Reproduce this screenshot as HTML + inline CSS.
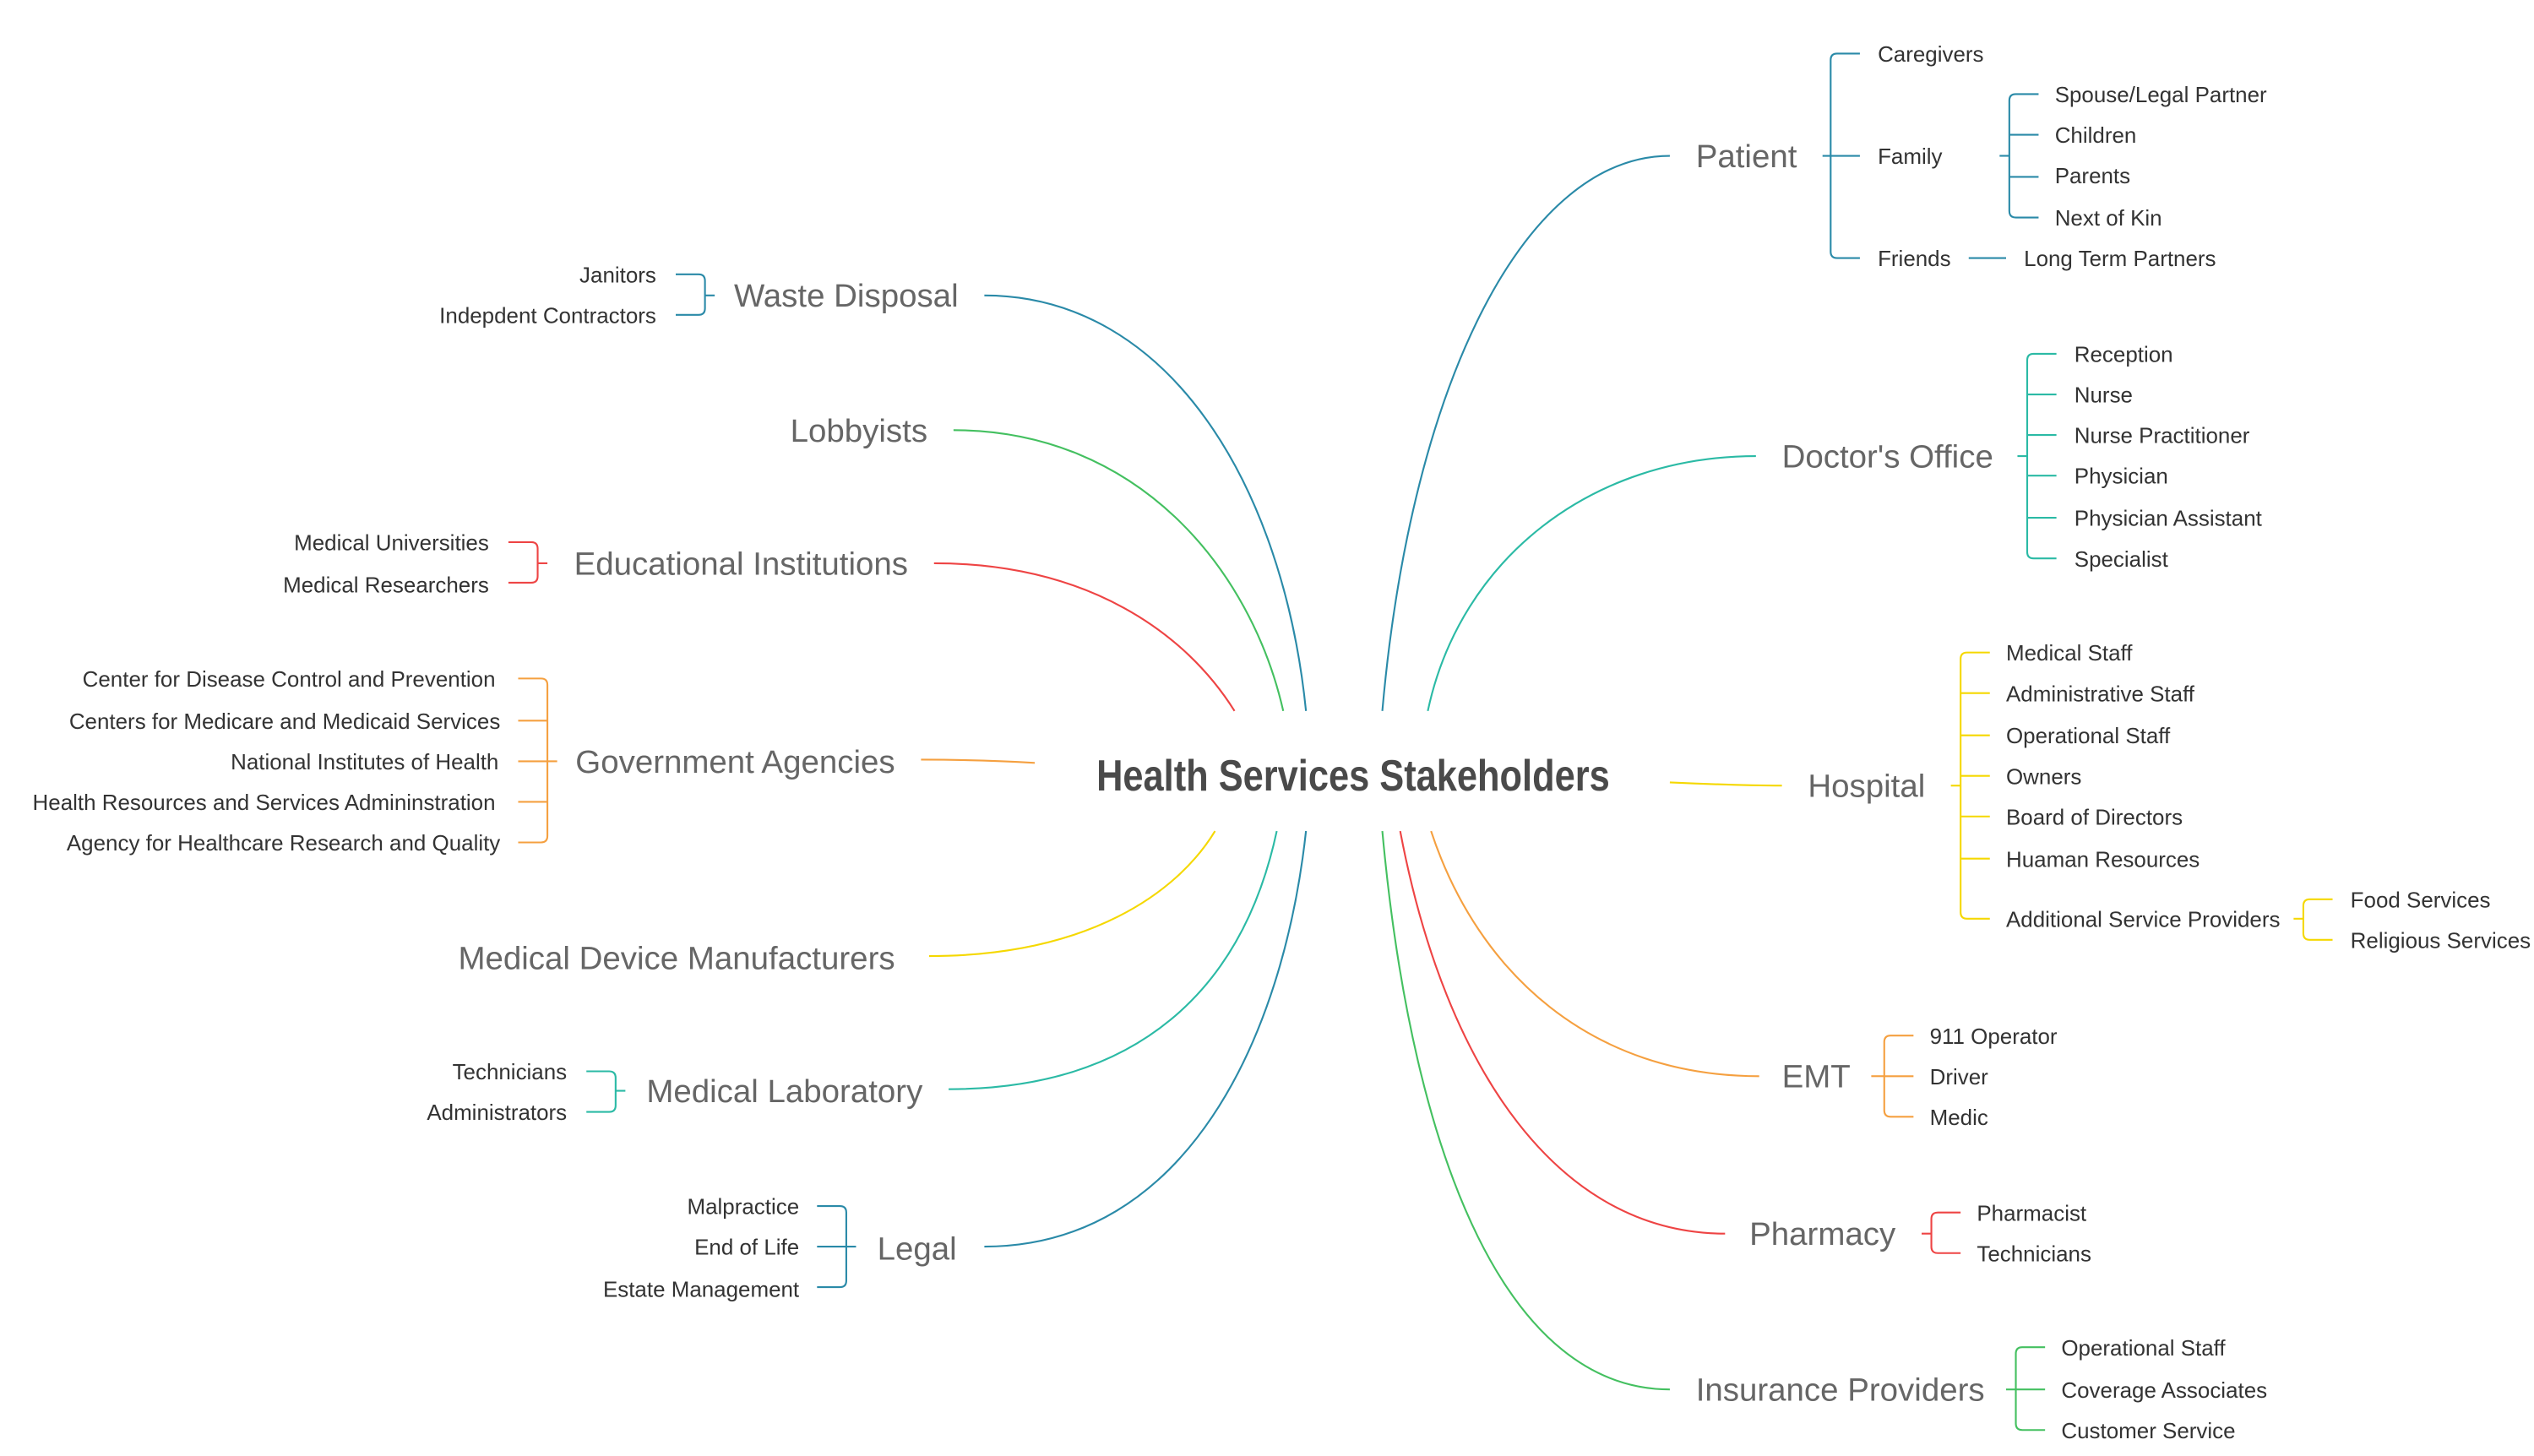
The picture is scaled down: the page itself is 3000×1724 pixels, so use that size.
<!DOCTYPE html>
<html><head><meta charset="utf-8"><style>
html,body{margin:0;padding:0;background:#fff;}
svg{display:block;}
.l{font-family:"Liberation Sans",sans-serif;font-size:13.5px;fill:#333;}
.b{font-family:"Liberation Sans",sans-serif;font-size:20px;fill:#666;}
.e{text-anchor:end;}
path{fill:none;stroke-width:1.1;}
</style></head><body>
<svg width="3000" height="1724" viewBox="0 0 1560 897" preserveAspectRatio="none" xmlns="http://www.w3.org/2000/svg">
<text x="675" y="487" textLength="316" lengthAdjust="spacingAndGlyphs" style="font-family:'Liberation Sans Narrow','Liberation Sans',sans-serif;font-weight:bold;font-size:27px;fill:#4a4a4a">Health Services Stakeholders</text>

<!-- Patient -->
<g stroke="#2a8aa8">
<path d="M851,438 C869,233 940,96 1028,96"/>
<path d="M1122,96 H1145"/>
<path d="M1145,33 H1131 Q1127,33 1127,37 V155 Q1127,159 1131,159 H1145"/>
<path d="M1231,96 H1237"/>
<path d="M1255,58 H1241 Q1237,58 1237,62 V130 Q1237,134 1241,134 H1255 M1237,83 H1255 M1237,109 H1255"/>
<path d="M1212,159 H1235"/>
</g>
<text class="b" x="1044" y="103">Patient</text>
<text class="l" x="1156" y="38">Caregivers</text>
<text class="l" x="1156" y="101">Family</text>
<text class="l" x="1156" y="164">Friends</text>
<text class="l" x="1265" y="63">Spouse/Legal Partner</text>
<text class="l" x="1265" y="88">Children</text>
<text class="l" x="1265" y="113">Parents</text>
<text class="l" x="1265" y="139">Next of Kin</text>
<text class="l" x="1246" y="164">Long Term Partners</text>

<!-- Doctor's Office -->
<g stroke="#2bbaa5">
<path d="M879,438 C899,344 980,281 1081,281"/>
<path d="M1242,281 H1248"/>
<path d="M1266,218 H1252 Q1248,218 1248,222 V340 Q1248,344 1252,344 H1266 M1248,243 H1266 M1248,268 H1266 M1248,293 H1266 M1248,319 H1266"/>
</g>
<text class="b" x="1097" y="288">Doctor's Office</text>
<text class="l" x="1277" y="223">Reception</text>
<text class="l" x="1277" y="248">Nurse</text>
<text class="l" x="1277" y="273">Nurse Practitioner</text>
<text class="l" x="1277" y="298">Physician</text>
<text class="l" x="1277" y="324">Physician Assistant</text>
<text class="l" x="1277" y="349">Specialist</text>

<!-- Hospital -->
<g stroke="#f5d800">
<path d="M1028,482 C1050,483 1075,484 1097,484"/>
<path d="M1201,484 H1207"/>
<path d="M1225,402 H1211 Q1207,402 1207,406 V562 Q1207,566 1211,566 H1225 M1207,427 H1225 M1207,453 H1225 M1207,478 H1225 M1207,503 H1225 M1207,529 H1225"/>
<path d="M1412,566 H1418"/>
<path d="M1436,554 H1422 Q1418,554 1418,558 V575 Q1418,579 1422,579 H1436"/>
</g>
<text class="b" x="1113" y="491">Hospital</text>
<text class="l" x="1235" y="407">Medical Staff</text>
<text class="l" x="1235" y="432">Administrative Staff</text>
<text class="l" x="1235" y="458">Operational Staff</text>
<text class="l" x="1235" y="483">Owners</text>
<text class="l" x="1235" y="508">Board of Directors</text>
<text class="l" x="1235" y="534">Huaman Resources</text>
<text class="l" x="1235" y="571">Additional Service Providers</text>
<text class="l" x="1447" y="559">Food Services</text>
<text class="l" x="1447" y="584">Religious Services</text>

<!-- EMT -->
<g stroke="#f5a040">
<path d="M881,512 C910,600 980,663 1083,663"/>
<path d="M1152,663 H1160"/>
<path d="M1178,638 H1164 Q1160,638 1160,642 V684 Q1160,688 1164,688 H1178 M1160,663 H1178"/>
</g>
<text class="b" x="1097" y="670">EMT</text>
<text class="l" x="1188" y="643">911 Operator</text>
<text class="l" x="1188" y="668">Driver</text>
<text class="l" x="1188" y="693">Medic</text>

<!-- Pharmacy -->
<g stroke="#ee4444">
<path d="M862,512 C890,660 960,760 1062,760"/>
<path d="M1183,760 H1189"/>
<path d="M1207,747 H1193 Q1189,747 1189,751 V768 Q1189,772 1193,772 H1207"/>
</g>
<text class="b" x="1077" y="767">Pharmacy</text>
<text class="l" x="1217" y="752">Pharmacist</text>
<text class="l" x="1217" y="777">Technicians</text>

<!-- Insurance -->
<g stroke="#44c060">
<path d="M851,512 C870,720 930,856 1028,856"/>
<path d="M1235,856 H1241"/>
<path d="M1259,830 H1245 Q1241,830 1241,834 V877 Q1241,881 1245,881 H1259 M1241,856 H1259"/>
</g>
<text class="b" x="1044" y="863">Insurance Providers</text>
<text class="l" x="1269" y="835">Operational Staff</text>
<text class="l" x="1269" y="861">Coverage Associates</text>
<text class="l" x="1269" y="886">Customer Service</text>

<!-- Waste Disposal -->
<g stroke="#2a8aa8">
<path d="M606,182 C720,182 790,300 804,438"/>
<path d="M434,182 H440"/>
<path d="M416,169 H430 Q434,169 434,173 V190 Q434,194 430,194 H416"/>
</g>
<text class="b e" x="590" y="189">Waste Disposal</text>
<text class="l e" x="404" y="174">Janitors</text>
<text class="l e" x="404" y="199">Indepdent Contractors</text>

<!-- Lobbyists -->
<path stroke="#44c060" d="M587,265 C700,265 770,350 790,438"/>
<text class="b e" x="571" y="272">Lobbyists</text>

<!-- Educational -->
<g stroke="#ee4444">
<path d="M575,347 C670,347 730,390 760,438"/>
<path d="M331,347 H337"/>
<path d="M313,334 H327 Q331,334 331,338 V355 Q331,359 327,359 H313"/>
</g>
<text class="b e" x="559" y="354">Educational Institutions</text>
<text class="l e" x="301" y="339">Medical Universities</text>
<text class="l e" x="301" y="365">Medical Researchers</text>

<!-- Government -->
<g stroke="#f5a040">
<path d="M567,468 C600,468 620,469 637,470"/>
<path d="M337,469 H343"/>
<path d="M319,418 H333 Q337,418 337,422 V515 Q337,519 333,519 H319 M319,444 H337 M319,469 H337 M319,494 H337"/>
</g>
<text class="b e" x="551" y="476">Government Agencies</text>
<text class="l e" x="305" y="423">Center for Disease Control and Prevention</text>
<text class="l e" x="308" y="449">Centers for Medicare and Medicaid Services</text>
<text class="l e" x="307" y="474">National Institutes of Health</text>
<text class="l e" x="305" y="499">Health Resources and Services Admininstration</text>
<text class="l e" x="308" y="524">Agency for Healthcare Research and Quality</text>

<!-- Device -->
<path stroke="#f5d800" d="M572,589 C670,589 725,550 748,512"/>
<text class="b e" x="551" y="597">Medical Device Manufacturers</text>

<!-- Laboratory -->
<g stroke="#2bbaa5">
<path d="M584,671 C700,671 765,610 786,512"/>
<path d="M379,672 H385"/>
<path d="M361,660 H375 Q379,660 379,664 V681 Q379,685 375,685 H361"/>
</g>
<text class="b e" x="568" y="679">Medical Laboratory</text>
<text class="l e" x="349" y="665">Technicians</text>
<text class="l e" x="349" y="690">Administrators</text>

<!-- Legal -->
<g stroke="#2a8aa8">
<path d="M606,768 C730,768 790,640 804,512"/>
<path d="M521,768 H527"/>
<path d="M503,743 H517 Q521,743 521,747 V789 Q521,793 517,793 H503 M503,768 H521"/>
</g>
<text class="b e" x="589" y="776">Legal</text>
<text class="l e" x="492" y="748">Malpractice</text>
<text class="l e" x="492" y="773">End of Life</text>
<text class="l e" x="492" y="799">Estate Management</text>
</svg>
</body></html>
